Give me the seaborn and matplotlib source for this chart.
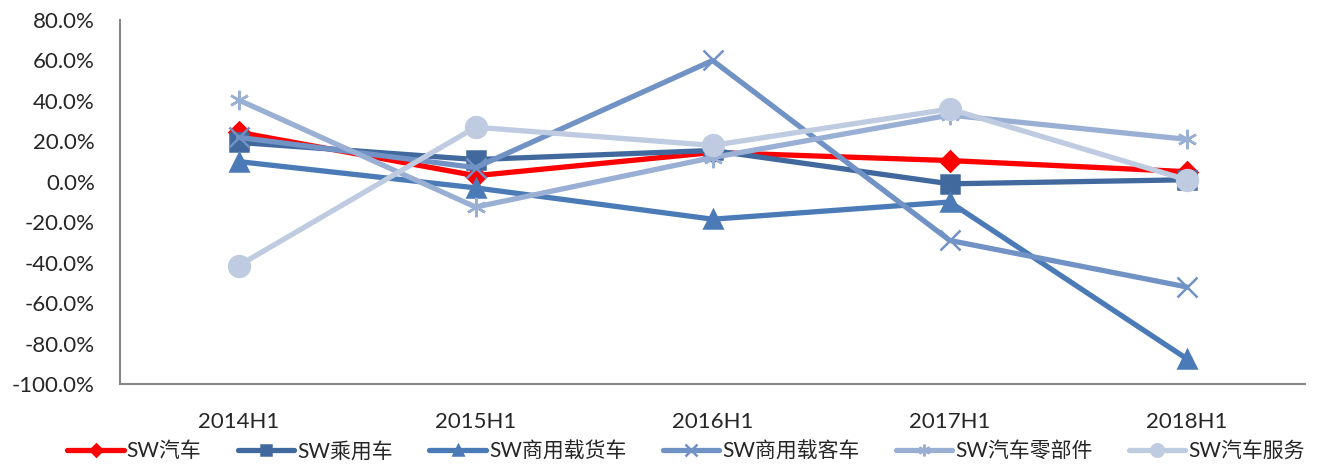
import numpy as np
import pandas as pd
import matplotlib
matplotlib.use("Agg")
import matplotlib.pyplot as plt
import seaborn as sns
from matplotlib.ticker import FuncFormatter, FixedLocator

# data (growth, %)
periods = ["2014H1", "2015H1", "2016H1", "2017H1", "2018H1"]
sw_auto = [24.5, 3.0, 14.5, 10.5, 5.0]
sw_passenger = [19.5, 11.0, 15.5, -1.0, 1.0]
sw_truck = [10.0, -3.0, -18.5, -10.0, -87.5]
sw_bus = [22.0, 7.0, 60.0, -29.0, -52.0]
sw_parts = [40.5, -12.5, 12.0, 33.0, 21.0]
sw_service = [-41.5, 27.0, 18.0, 36.0, 1.0]

series_names = ["SW汽车", "SW乘用车", "SW商用载货车", "SW商用载客车", "SW汽车零部件", "SW汽车服务"]
series_values = [sw_auto, sw_passenger, sw_truck, sw_bus, sw_parts, sw_service]
colors = ["#FF0000", "#41699E", "#4A7BB7", "#7092C4", "#9AAFD4", "#BFCBE0"]
markers = ["D", "s", "^", "x", (6, 2, 0), "o"]
msizes = [10, 13, 13, 14, 14, 15]

sns.set_style("white")
plt.rcParams["font.family"] = ["Lato", "Noto Sans CJK SC", "DejaVu Sans"]

fig = plt.figure(figsize=(13.17, 4.66), dpi=100)
ax = fig.add_axes([0.0911, 0.176, 0.9, 0.781])

for name, vals, c, m, ms in zip(series_names, series_values, colors, markers, msizes):
    df = pd.DataFrame({"period": periods, "value": vals})
    sns.lineplot(data=df, x="period", y="value", ax=ax, color=c, linewidth=3.8,
                 marker=m, markersize=ms, markeredgecolor=c, markeredgewidth=1.8,
                 label=name)

ax.set_xlim(-0.5, 4.5)
ax.set_ylim(-100, 80)
ax.set_yticks(np.arange(-100, 81, 20))
ax.yaxis.set_major_formatter(FuncFormatter(lambda v, p: f"{v:.1f}%"))
ax.xaxis.set_major_locator(FixedLocator(range(len(periods))))
ax.xaxis.set_minor_locator(FixedLocator(np.arange(-0.5, 4.6, 1)))
ax.set_xticklabels(periods)
ax.tick_params(axis="x", which="major", length=0, pad=20, labelsize=16)
ax.tick_params(axis="x", which="minor", length=8, width=1.3, direction="in", color="#868686")
ax.tick_params(axis="y", length=8, width=1.3, direction="in", color="#868686", pad=18, labelsize=16)
ax.set_xlabel("")
ax.set_ylabel("")

for s in ["top", "right"]:
    ax.spines[s].set_visible(False)
for s in ["left", "bottom"]:
    ax.spines[s].set_color("#868686")
    ax.spines[s].set_linewidth(1.5)

handles, labels = ax.get_legend_handles_labels()
ax.get_legend().remove()
fig.legend(handles, labels, loc="lower center", ncol=6, frameon=False,
           bbox_to_anchor=(0.521, -0.03), fontsize=15, handlelength=2.7,
           handletextpad=0.15, columnspacing=1.75, markerscale=0.6)

fig.savefig("out.png", dpi=100)
